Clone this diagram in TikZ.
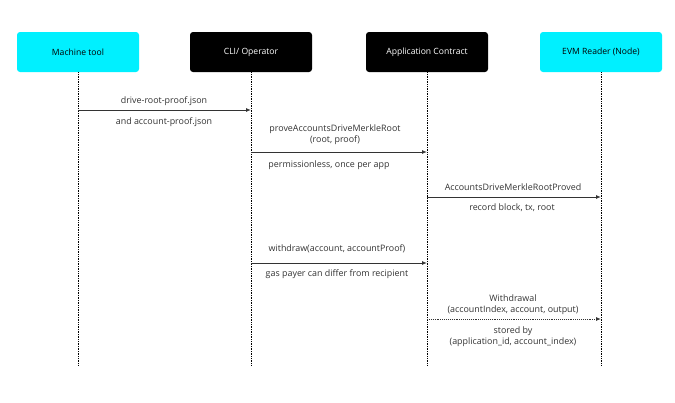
\documentclass[tikz,border=0pt]{standalone}
\usepackage{fontspec}
\setmainfont{Open Sans}
\usetikzlibrary{arrows.meta}
\definecolor{cy}{HTML}{00F0FF}
\definecolor{tx}{HTML}{333333}
\begin{document}
\begin{tikzpicture}[x=1pt,y=-1pt,
 box/.style={rounded corners=3pt,minimum width=122pt,minimum height=40pt,font=\fontsize{8.6}{10}\selectfont,inner sep=0pt},
 life/.style={densely dotted,line width=0.7pt,black},
 msg/.style={-{Latex[length=5pt,width=4pt]},line width=0.9pt,draw=black!80},
 lbl/.style={font=\fontsize{8.9}{10.8}\selectfont,text=tx,align=center,inner sep=0pt}]
\useasboundingbox (0,0) rectangle (675,402);
\node[box,fill=cy,text=black] (m) at (78,52) {Machine tool};
\node[box,fill=black,text=white] (c) at (251,52) {CLI/ Operator};
\node[box,fill=black,text=white] (a) at (427,52) {Application Contract};
\node[box,fill=cy,text=black] (e) at (601,52) {EVM Reader (Node)};
\foreach \n/\x in {m/78,c/251,a/427,e/601}{
  \coordinate (\n e) at (\x,366);
  \draw[life] (\n.south) -- (\n e);}
% msg 1
\coordinate (m1) at (78,110); \coordinate (c1) at (251,110);
\draw[msg] (m1) -- (c1);
\node[lbl] (l1) at (164,101) {drive-root-proof.json};
\node[lbl] (l1b) at (164,122) {and account-proof.json};
% msg 2
\coordinate (c2) at (251,152); \coordinate (a2) at (427,152);
\draw[msg] (c2) -- (a2);
\node[lbl] (l2) at (335,135) {proveAccountsDriveMerkleRoot\\(root, proof)};
\node[lbl] (l2b) at (329,165) {permissionless, once per app};
% msg 3
\coordinate (a3) at (427,197); \coordinate (e3) at (601,197);
\draw[msg] (a3) -- (e3);
\node[lbl] (l3) at (513,187) {AccountsDriveMerkleRootProved};
\node[lbl] (l3b) at (512,208) {record block, tx, root};
% msg 4
\coordinate (c4) at (251,263); \coordinate (a4) at (427,263);
\draw[msg] (c4) -- (a4);
\node[lbl] (l4) at (337,249) {withdraw(account, accountProof)};
\node[lbl] (l4b) at (337,274) {gas payer can differ from recipient};
% msg 5
\coordinate (a5) at (427,319); \coordinate (e5) at (601,319);
\draw[msg,densely dotted] (a5) -- (e5);
\node[lbl] (l5) at (513,304.5) {Withdrawal\\(accountIndex, account, output)};
\node[lbl] (l5b) at (513,336.5) {stored by\\(application\_id, account\_index)};
\end{tikzpicture}
\end{document}
